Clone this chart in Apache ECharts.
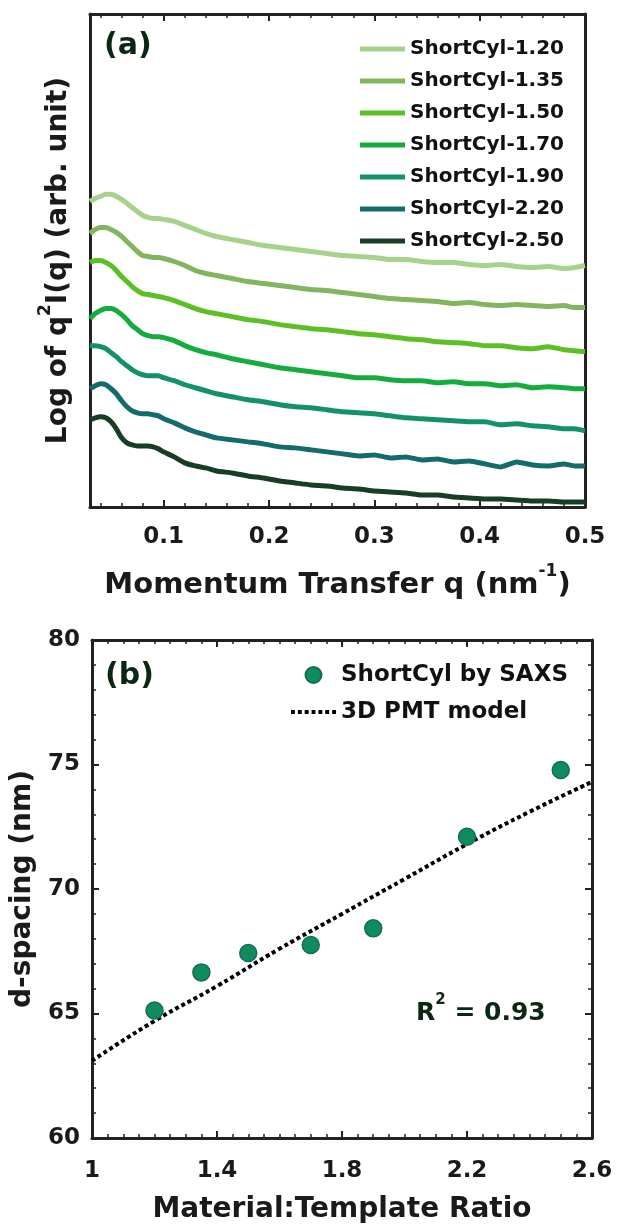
<!DOCTYPE html>
<html><head><meta charset="utf-8">
<script src="https://cdn.jsdelivr.net/npm/echarts@6/dist/echarts.min.js"></script>
<style>html,body{margin:0;padding:0;background:#fff}#c{width:617px;height:1225px}</style>
</head><body><div id="c"></div>
<script>
// ---------- Panel (a) data ----------
const qGrid = [0.030,0.035,0.040,0.045,0.050,0.055,0.060,0.065,0.070,0.075,0.080,0.085,0.090,0.095,0.100,
  0.110,0.120,0.130,0.140,0.150,0.165,0.180,0.195,0.210,0.225,0.240,0.255,0.270,0.285,0.300,0.315,0.330,
  0.345,0.360,0.375,0.390,0.405,0.420,0.435,0.450,0.465,0.480,0.490,0.500];
const seriesNames = ['ShortCyl-1.20','ShortCyl-1.35','ShortCyl-1.50','ShortCyl-1.70','ShortCyl-1.90','ShortCyl-2.20','ShortCyl-2.50'];
const c120 = [30.5,30.8,31.0,31.2,31.2,31.0,30.7,30.3,29.9,29.5,29.1,28.9,28.8,28.8,28.7,28.5,28.1,27.7,27.3,27.0,26.7,26.4,26.1,25.9,25.7,25.5,25.3,25.1,25.0,24.9,24.7,24.7,24.5,24.4,24.4,24.2,24.1,24.2,24.0,23.9,24.0,23.8,23.9,24.1];
const c135 = [27.3,27.7,27.9,27.9,27.7,27.4,27.0,26.5,26.0,25.5,25.1,25.0,24.9,24.9,24.8,24.5,24.1,23.6,23.3,23.1,22.8,22.5,22.3,22.1,21.9,21.7,21.6,21.4,21.2,21.0,20.8,20.7,20.6,20.5,20.3,20.4,20.2,20.1,20.2,20.1,20.0,20.1,19.9,19.9];
const c150 = [24.4,24.6,24.6,24.4,24.1,23.6,23.0,22.5,22.0,21.6,21.3,21.2,21.1,21.0,20.9,20.6,20.2,19.8,19.5,19.3,19.0,18.7,18.5,18.2,18.0,17.8,17.7,17.5,17.3,17.2,17.0,16.8,16.7,16.5,16.4,16.3,16.1,16.1,15.9,15.8,16.0,15.7,15.6,15.5];
const c170 = [18.8,19.3,19.6,19.8,19.8,19.6,19.2,18.7,18.1,17.7,17.3,17.1,17.0,17.0,16.9,16.6,16.1,15.7,15.4,15.2,14.8,14.5,14.2,13.9,13.7,13.5,13.3,13.1,12.9,12.9,12.7,12.6,12.6,12.4,12.5,12.3,12.3,12.1,12.2,11.9,12.0,11.9,11.8,11.8];
const c190 = [16.1,16.1,16.0,15.8,15.4,15.0,14.5,14.1,13.7,13.4,13.2,13.1,13.1,13.1,12.9,12.6,12.2,11.9,11.6,11.3,11.0,10.7,10.5,10.2,10.0,9.9,9.7,9.5,9.4,9.3,9.1,8.9,8.8,8.7,8.6,8.5,8.5,8.2,8.3,8.1,8.0,7.8,7.8,7.6];
const c220 = [11.8,12.1,12.3,12.2,11.8,11.3,10.6,10.0,9.6,9.4,9.3,9.3,9.2,9.1,8.8,8.4,7.9,7.5,7.2,6.9,6.7,6.5,6.3,6.0,5.9,5.7,5.5,5.3,5.1,5.2,4.9,5.0,4.7,4.8,4.5,4.6,4.3,4.0,4.5,4.2,4.1,4.3,4.1,4.1];
const c250 = [8.7,8.9,9.0,8.9,8.5,7.8,6.9,6.4,6.2,6.1,6.1,6.1,6.0,5.8,5.5,5.0,4.4,4.1,3.9,3.6,3.4,3.1,2.9,2.6,2.4,2.2,2.1,1.9,1.8,1.6,1.5,1.4,1.2,1.2,1.0,0.9,0.8,0.8,0.7,0.6,0.6,0.5,0.5,0.5];
const qTickLabels = [0.1,0.2,0.3,0.4,0.5];
const qMinorTicks = [0.04,0.06,0.08,0.12,0.14,0.16,0.18,0.22,0.24,0.26,0.28,0.32,0.34,0.36,0.38,0.42,0.44,0.46,0.48];

// ---------- Panel (b) data ----------
const ratio = [1.2,1.35,1.5,1.7,1.9,2.2,2.5];
const dSpacing = [65.12,66.65,67.43,67.75,68.42,72.1,74.78];
const modelRatio = [1.0,1.2,1.4,1.6,1.8,2.0,2.2,2.4,2.6];
const modelD = [63.1,64.7,66.1,67.6,69.0,70.4,71.8,73.1,74.3];
const ratioTicks = [1,1.4,1.8,2.2,2.6];
const ratioMinorTicks = [1.05,1.1,1.15,1.2,1.25,1.3,1.35,1.45,1.5,1.55,1.6,1.65,1.7,1.75,1.85,1.9,1.95,2.0,2.05,2.1,2.15,2.25,2.3,2.35,2.4,2.45,2.5,2.55];

const curveArrays = [c120,c135,c150,c170,c190,c220,c250];
const curveColors = ['#a8d18e','#82b55f','#5cbf24','#14ad3d','#13916a','#146b6b','#173d25'];

const FF = 'DejaVu Sans';
const AX = '#222';
const lbl = {fontFamily: FF, fontWeight: 'bold', fontSize: 23, color: '#1a1a1a'};
const supStyle = (fs) => ({fontFamily: FF, fontWeight: 'bold', fontSize: fs, color: '#1a1a1a', verticalAlign: 'top', lineHeight: 20});

const chart = echarts.init(document.getElementById('c'), null, {renderer: 'canvas'});

const series = [];
curveArrays.forEach((arr, k) => {
  series.push({
    name: seriesNames[k], type: 'line', xAxisIndex: 0, yAxisIndex: 0,
    data: qGrid.map((q, i) => [q, arr[i]]),
    showSymbol: false, symbol: 'none', smooth: 0.15,
    lineStyle: {width: 5, color: curveColors[k]}, itemStyle: {color: curveColors[k]},
    z: 2
  });
});
series.push({
  name: '3D PMT model', type: 'line', xAxisIndex: 4, yAxisIndex: 2,
  data: modelRatio.map((x, i) => [x, modelD[i]]),
  symbol: 'none', smooth: true,
  lineStyle: {width: 4, color: '#000', type: [4, 3]}, itemStyle: {color: '#000'}, z: 2
});
series.push({
  name: 'ShortCyl by SAXS', type: 'scatter', xAxisIndex: 4, yAxisIndex: 2,
  data: ratio.map((x, i) => [x, dSpacing[i]]),
  symbol: 'circle', symbolSize: 17,
  itemStyle: {color: '#0f8c5c', borderColor: '#17695e', borderWidth: 1.5, opacity: 1}, z: 3
});

const frameLine = {show: true, onZero: false, lineStyle: {color: AX, width: 3}};
const dotIcon = 'path://M0,0h4v4h-4zM7,0h4v4h-4zM14,0h4v4h-4zM21,0h4v4h-4zM28,0h4v4h-4zM35,0h4v4h-4zM42,0h4v4h-4z';

const option = {
  animation: false,
  backgroundColor: '#fff',
  grid: [
    {left: 90, top: 14, width: 495, height: 493},
    {left: 92, top: 640, width: 500, height: 498}
  ],
  xAxis: [
    { // 0: (a) bottom major
      gridIndex: 0, type: 'value', min: 0.03, max: 0.5, position: 'bottom',
      axisLine: frameLine,
      axisTick: {show: true, inside: true, length: 7, customValues: qTickLabels, lineStyle: {color: AX, width: 2}},
      axisLabel: {show: true, customValues: qTickLabels, margin: 19, formatter: v => (Math.round(v*10)/10).toString(), ...lbl},
      splitLine: {show: false},
      name: 'Momentum Transfer q (nm{sup|-1})', nameLocation: 'middle', nameGap: 56,
      nameTextStyle: {fontFamily: FF, fontWeight: 'bold', fontSize: 29, color: '#1a1a1a', lineHeight: 44, rich: {sup: supStyle(17)}}
    },
    { // 1: (a) bottom minor
      gridIndex: 0, type: 'value', min: 0.03, max: 0.5, position: 'bottom',
      axisLine: {show: false, onZero: false},
      axisTick: {show: true, inside: true, length: 4, customValues: qMinorTicks, lineStyle: {color: AX, width: 1.5}},
      axisLabel: {show: false}, splitLine: {show: false}
    },
    { // 2: (a) top major
      gridIndex: 0, type: 'value', min: 0.03, max: 0.5, position: 'top',
      axisLine: frameLine,
      axisTick: {show: true, inside: true, length: 7, customValues: qTickLabels, lineStyle: {color: AX, width: 2}},
      axisLabel: {show: false}, splitLine: {show: false}
    },
    { // 3: (a) top minor
      gridIndex: 0, type: 'value', min: 0.03, max: 0.5, position: 'top',
      axisLine: {show: false, onZero: false},
      axisTick: {show: true, inside: true, length: 4, customValues: qMinorTicks, lineStyle: {color: AX, width: 1.5}},
      axisLabel: {show: false}, splitLine: {show: false}
    },
    { // 4: (b) bottom
      gridIndex: 1, type: 'value', min: 1, max: 2.6, position: 'bottom',
      axisLine: frameLine,
      axisTick: {show: true, inside: true, length: 7, customValues: ratioTicks, lineStyle: {color: AX, width: 2}},
      minorTick: {show: false},
      axisLabel: {show: true, customValues: ratioTicks, margin: 22, formatter: v => (Math.round(v*10)/10).toString(), ...lbl},
      splitLine: {show: false},
      name: 'Material:Template Ratio', nameLocation: 'middle', nameGap: 58,
      nameTextStyle: {fontFamily: FF, fontWeight: 'bold', fontSize: 28, color: '#1a1a1a'}
    },
    { // 5: (b) bottom minor
      gridIndex: 1, type: 'value', min: 1, max: 2.6, position: 'bottom',
      axisLine: {show: false, onZero: false},
      axisTick: {show: true, inside: true, length: 4, customValues: ratioMinorTicks, lineStyle: {color: AX, width: 1.5}},
      axisLabel: {show: false}, splitLine: {show: false}
    },
    { // 6: (b) top
      gridIndex: 1, type: 'value', min: 1, max: 2.6, position: 'top',
      axisLine: frameLine,
      axisTick: {show: true, inside: true, length: 7, customValues: ratioTicks, lineStyle: {color: AX, width: 2}},
      axisLabel: {show: false}, splitLine: {show: false}
    },
    { // 7: (b) top minor
      gridIndex: 1, type: 'value', min: 1, max: 2.6, position: 'top',
      axisLine: {show: false, onZero: false},
      axisTick: {show: true, inside: true, length: 4, customValues: ratioMinorTicks, lineStyle: {color: AX, width: 1.5}},
      axisLabel: {show: false}, splitLine: {show: false}
    }
  ],
  yAxis: [
    { // 0: (a) left
      gridIndex: 0, type: 'value', min: 0, max: 49.2, position: 'left',
      axisLine: frameLine, axisTick: {show: false}, axisLabel: {show: false}, splitLine: {show: false},
      name: 'Log of q{sup|2}I(q) (arb. unit)', nameLocation: 'middle', nameGap: 9, nameRotate: 90,
      nameTextStyle: {fontFamily: FF, fontWeight: 'bold', fontSize: 28, color: '#1a1a1a', lineHeight: 44, rich: {sup: supStyle(17)}}
    },
    { // 1: (a) right
      gridIndex: 0, type: 'value', min: 0, max: 49.2, position: 'right',
      axisLine: frameLine, axisTick: {show: false}, axisLabel: {show: false}, splitLine: {show: false}
    },
    { // 2: (b) left
      gridIndex: 1, type: 'value', min: 60, max: 80, interval: 5, position: 'left',
      axisLine: frameLine,
      axisTick: {show: true, inside: true, length: 7, lineStyle: {color: AX, width: 2}},
      minorTick: {show: true, splitNumber: 5, length: 4, lineStyle: {color: AX, width: 1.5}},
      axisLabel: {show: true, margin: 12, ...lbl}, splitLine: {show: false}, minorSplitLine: {show: false},
      name: 'd-spacing (nm)', nameLocation: 'middle', nameGap: 54, nameRotate: 90,
      nameTextStyle: {fontFamily: FF, fontWeight: 'bold', fontSize: 28, color: '#1a1a1a'}
    },
    { // 3: (b) right
      gridIndex: 1, type: 'value', min: 60, max: 80, interval: 5, position: 'right',
      axisLine: frameLine,
      axisTick: {show: true, inside: true, length: 7, lineStyle: {color: AX, width: 2}},
      minorTick: {show: true, splitNumber: 5, length: 4, lineStyle: {color: AX, width: 1.5}},
      axisLabel: {show: false}, splitLine: {show: false}, minorSplitLine: {show: false}
    }
  ],
  legend: [
    {
      data: seriesNames, orient: 'vertical', left: 355, top: 33,
      icon: 'rect', itemWidth: 45, itemHeight: 5, itemGap: 10,
      textStyle: {fontFamily: FF, fontWeight: 'bold', fontSize: 20, color: '#111', lineHeight: 22},
      selectedMode: false
    },
    {
      data: [{name: 'ShortCyl by SAXS', icon: 'circle'}, {name: '3D PMT model', icon: dotIcon}],
      orient: 'vertical', left: 286, top: 657,
      itemWidth: 45, itemHeight: 16, itemGap: 11,
      textStyle: {fontFamily: FF, fontWeight: 'bold', fontSize: 23, color: '#111', lineHeight: 26},
      selectedMode: false
    }
  ],
  graphic: [
    {type: 'text', left: 104, top: 31, style: {text: '(a)', fontFamily: FF, fontWeight: 'bold', fontSize: 30, fill: '#0b2612'}},
    {type: 'text', left: 105, top: 661, style: {text: '(b)', fontFamily: FF, fontWeight: 'bold', fontSize: 30, fill: '#0b2612'}},
    {type: 'text', left: 416, top: 993, style: {
      text: 'R{sup|2} = 0.93', fontFamily: FF, fontWeight: 'bold', fontSize: 25, fill: '#0b2612', lineHeight: 40,
      rich: {sup: {fontFamily: FF, fontWeight: 'bold', fontSize: 15, fill: '#0b2612', verticalAlign: 'top', lineHeight: 19}}
    }}
  ],
  series: series
};
chart.setOption(option);
</script>
</body></html>
